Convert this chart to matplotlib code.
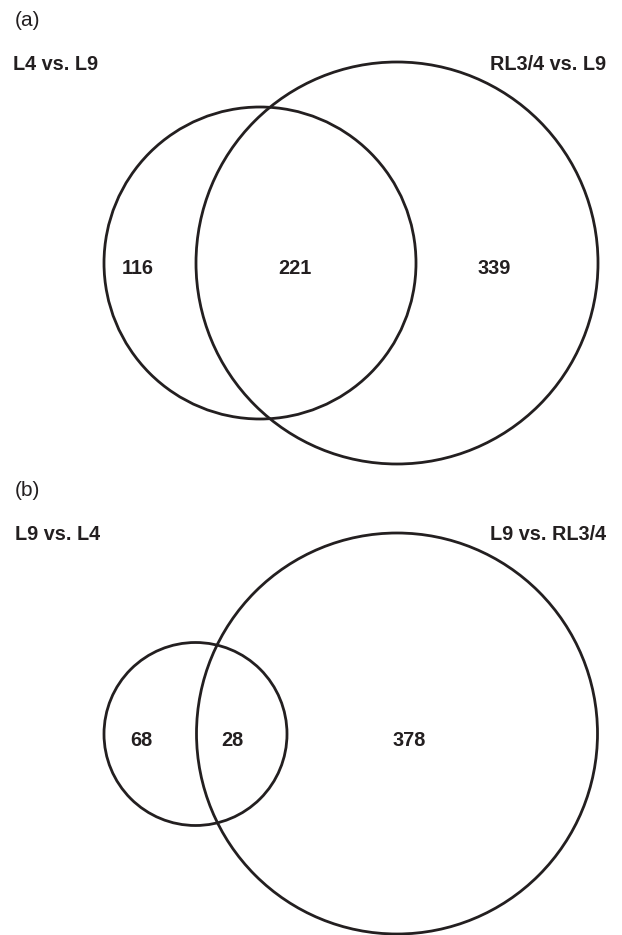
import matplotlib
matplotlib.use("Agg")
import matplotlib.pyplot as plt
from matplotlib.patches import Circle

plt.rcParams['font.family'] = ['Liberation Sans', 'DejaVu Sans']

# data
panel_tags = ["(a)", "(b)"]
left_names = ["L4 vs. L9", "L9 vs. L4"]
right_names = ["RL3/4 vs. L9", "L9 vs. RL3/4"]
only_left = [116, 68]
overlap = [221, 28]
only_right = [339, 378]

# layout (pixel coords in a 622x935 canvas)
ink = '#231f20'
panel_top = [0, 470]
left_circ = [(260, 263, 156), (195.5, 734, 91.5)]
right_circ = [(397, 263, 201), (397, 733.5, 200.5)]
num_y = [268, 740.5]
num_x = [(138, 295, 494), (141, 232, 409)]

fig = plt.figure(figsize=(6.22, 9.35), dpi=100)
ax = fig.add_axes([0, 0, 1, 1])
ax.set_xlim(0, 622)
ax.set_ylim(935, 0)
ax.set_aspect('equal')
ax.axis('off')

for i in range(2):
    y0 = panel_top[i]
    ax.text(15, y0 + 20, panel_tags[i], fontsize=15, color=ink, ha='left', va='center')
    ax.text(13 + 2 * i, y0 + 65, left_names[i], fontsize=14.3, fontweight='bold',
            color=ink, ha='left', va='center')
    ax.text(606, y0 + 64, right_names[i], fontsize=14.3, fontweight='bold',
            color=ink, ha='right', va='center')
    for cx, cy, r in (left_circ[i], right_circ[i]):
        ax.add_patch(Circle((cx, cy), r, fill=False, edgecolor=ink, lw=2))
    for x, v in zip(num_x[i], (only_left[i], overlap[i], only_right[i])):
        ax.text(x, num_y[i], str(v), fontsize=14.3, fontweight='bold',
                color=ink, ha='center', va='center')

fig.savefig('out.png', dpi=100)
